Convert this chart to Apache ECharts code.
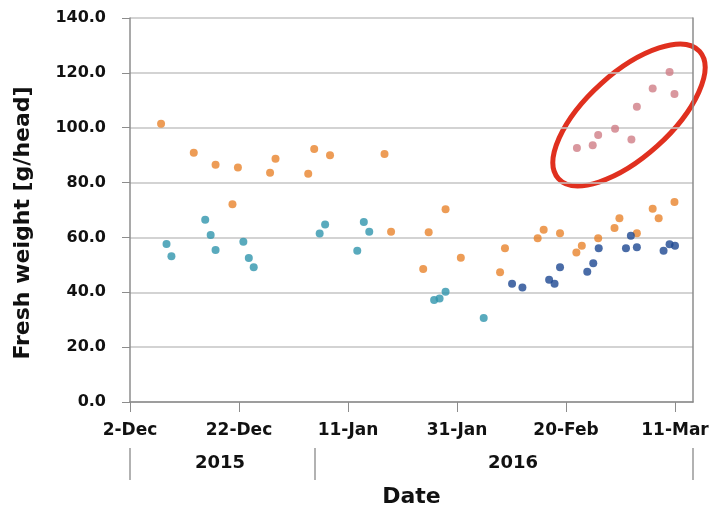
<!DOCTYPE html>
<html><head><meta charset="utf-8">
<script src="https://cdn.jsdelivr.net/npm/echarts@6/dist/echarts.min.js"></script>
<style>html,body{margin:0;padding:0;background:#fff}#c{width:713px;height:507px}</style>
</head><body><div id="c"></div>
<script>
// x values: days since 2-Dec-2015
const axisStart = Date.UTC(2015, 11, 2);
const xMin = 0, xMax = 103.3, xStep = 20;
const yMin = 0, yMax = 140, yStep = 20;
const monthNames = ['Jan','Feb','Mar','Apr','May','Jun','Jul','Aug','Sep','Oct','Nov','Dec'];
const yearLabels = ['2015', '2016'];
const xTitle = 'Date';
const yTitle = 'Fresh weight [g/head]';

const orangeDays = [5.7,11.7,15.7,18.8,19.8,25.7,26.7,32.7,33.8,36.7,46.7,47.9,53.8,54.8,57.9,60.7,67.9,68.8,74.8,75.9,78.9,81.9,82.9,85.9,88.9,89.8,93.0,95.9,97.0,99.9];
const orangeVals = [101.4,90.9,86.5,72.1,85.5,83.6,88.7,83.2,92.2,90.0,90.4,62.1,48.5,61.9,70.3,52.6,47.3,56.1,59.7,62.8,61.5,54.5,57.0,59.7,63.4,67.0,61.5,70.5,67.0,72.9];

const tealDays = [6.7,7.6,13.8,14.8,15.7,20.8,21.8,22.7,34.8,35.8,41.7,42.9,43.9,55.8,56.8,57.9,64.9];
const tealVals = [57.6,53.1,66.4,60.9,55.4,58.4,52.5,49.1,61.4,64.7,55.1,65.6,62.1,37.2,37.7,40.2,30.6];

const navyDays = [70.1,72.0,76.9,77.9,78.9,83.9,85.0,86.0,91.0,91.9,93.0,97.9,99.0,100.0];
const navyVals = [43.1,41.7,44.6,43.1,49.1,47.5,50.6,56.1,56.1,60.6,56.4,55.1,57.5,57.0];

const pinkDays = [82.0,84.9,85.9,89.0,92.0,93.0,95.9,99.0,99.9];
const pinkVals = [92.6,93.6,97.3,99.6,95.7,107.6,114.3,120.3,112.3];

function pairs(xs, ys) { return xs.map((x, i) => [x, ys[i]]); }
function dayLabel(d) {
  const dt = new Date(axisStart + Math.round(d) * 86400000);
  return dt.getUTCDate() + '-' + monthNames[dt.getUTCMonth()];
}

const font = 'DejaVu Sans';
const chart = echarts.init(document.getElementById('c'), null, {renderer: 'canvas'});

function scatter(name, data, color) {
  return {
    name: name, type: 'scatter', data: data, symbolSize: 8,
    itemStyle: {color: color}, xAxisIndex: 0, yAxisIndex: 0
  };
}

chart.setOption({
  backgroundColor: '#fff',
  animation: false,
  grid: {left: 130, right: 20, top: 18, bottom: 105, containLabel: false, outerBoundsMode: 'none'},
  xAxis: {
    type: 'value', min: xMin, max: xMax, interval: xStep,
    name: xTitle, nameLocation: 'middle', nameGap: 84,
    nameTextStyle: {fontFamily: font, fontWeight: 'bold', fontSize: 22, color: '#111'},
    axisLine: {show: true, lineStyle: {color: '#8c8c8c', width: 1.5}},
    axisTick: {show: true, length: 10, lineStyle: {color: '#8c8c8c'}},
    splitLine: {show: false},
    axisLabel: {
      margin: 20, fontFamily: font, fontWeight: 'bold', fontSize: 17, color: '#111',
      showMaxLabel: false,
      formatter: v => (Math.abs(v % xStep) < 1e-6 ? dayLabel(v) : '')
    }
  },
  yAxis: [{
    type: 'value', min: yMin, max: yMax, interval: yStep,
    name: yTitle, nameLocation: 'middle', nameGap: 96,
    nameTextStyle: {fontFamily: font, fontWeight: 'bold', fontSize: 22, color: '#111', padding: [0, 26, 0, 0]},
    axisLine: {show: true, lineStyle: {color: '#8c8c8c', width: 1.5}},
    axisTick: {show: true, length: 8, lineStyle: {color: '#8c8c8c'}},
    splitLine: {show: true, lineStyle: {color: '#c4c4c4', width: 1.5}},
    axisLabel: {
      margin: 24, fontFamily: font, fontWeight: 'bold', fontSize: 16, color: '#111',
      formatter: v => v.toFixed(1)
    }
  }, {
    type: 'value', min: yMin, max: yMax, interval: yStep, position: 'right',
    axisLine: {show: true, lineStyle: {color: '#8c8c8c', width: 1.5}},
    axisTick: {show: false}, axisLabel: {show: false}, splitLine: {show: false}
  }],
  series: [
    scatter('Orange', pairs(orangeDays, orangeVals), '#e9832c'),
    scatter('Teal', pairs(tealDays, tealVals), '#2f95ad'),
    scatter('Navy', pairs(navyDays, navyVals), '#1d4791'),
    scatter('Pink', pairs(pinkDays, pinkVals), '#cf7d86')
  ],
  graphic: [
    {type: 'line', shape: {x1: 130, y1: 448, x2: 130, y2: 480}, style: {stroke: '#999', lineWidth: 1.5}},
    {type: 'line', shape: {x1: 315, y1: 448, x2: 315, y2: 480}, style: {stroke: '#999', lineWidth: 1.5}},
    {type: 'line', shape: {x1: 693, y1: 448, x2: 693, y2: 480}, style: {stroke: '#999', lineWidth: 1.5}},
    {type: 'text', x: 220, y: 463, style: {text: yearLabels[0], textAlign: 'center', textVerticalAlign: 'middle', align: 'center', verticalAlign: 'middle', font: 'bold 18px "DejaVu Sans"', fill: '#111'}},
    {type: 'text', x: 513, y: 463, style: {text: yearLabels[1], textAlign: 'center', textVerticalAlign: 'middle', align: 'center', verticalAlign: 'middle', font: 'bold 18px "DejaVu Sans"', fill: '#111'}},
    {type: 'ellipse', x: 629, y: 115, rotation: 42 * Math.PI / 180,
     shape: {cx: 0, cy: 0, rx: 95, ry: 42},
     style: {fill: 'none', stroke: '#e0301f', lineWidth: 5}}
  ]
});
</script></body></html>
